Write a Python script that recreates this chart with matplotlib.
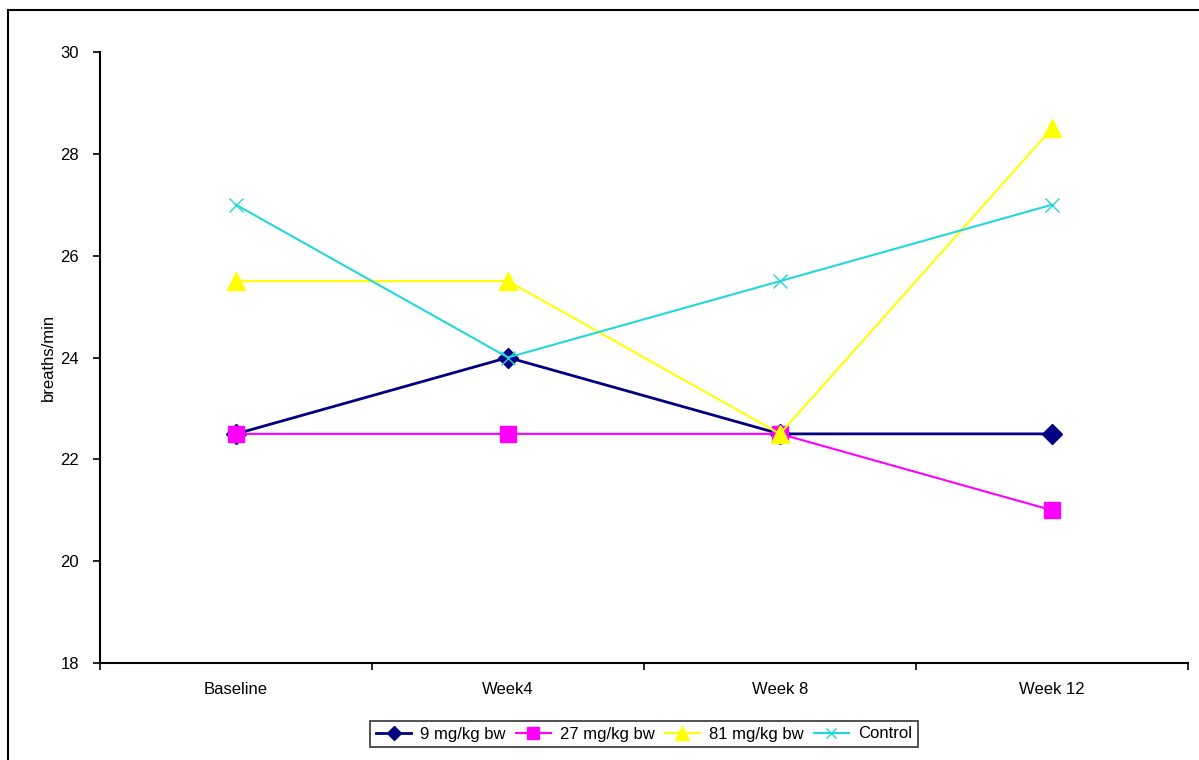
import matplotlib
matplotlib.use("Agg")
import matplotlib.pyplot as plt
import numpy as np
from matplotlib.lines import Line2D

plt.rcParams['font.family'] = ['Liberation Sans', 'DejaVu Sans']

categories = ["Baseline", "Week4", "Week 8", "Week 12"]
dose_9 = [22.5, 24, 22.5, 22.5]
dose_27 = [22.5, 22.5, 22.5, 21]
dose_81 = [25.5, 25.5, 22.5, 28.5]
control = [27, 24, 25.5, 27]
series_names = ["9 mg/kg bw", "27 mg/kg bw", "81 mg/kg bw", "Control"]
y_ticks = [18, 20, 22, 24, 26, 28, 30]

FS = 12
W, H = 1199, 760
fig = plt.figure(figsize=(W / 100, H / 100), dpi=100)
ax = fig.add_axes([100 / W, (H - 663) / H, 1088 / W, 611 / H])

x = np.arange(len(categories))
ax.plot(x, dose_9, color="#000080", lw=2.0, marker="D", ms=10, mec="#000080", mfc="#000080", label=series_names[0], zorder=3)
ax.plot(x, dose_27, color="#FF00FF", lw=1.5, marker="s", ms=11.5, mec="#FF00FF", mfc="#FF00FF", label=series_names[1], zorder=4)
ax.plot(x, dose_81, color="#FFFF00", lw=1.5, marker="^", ms=13.5, mec="#FFFF00", mfc="#FFFF00", label=series_names[2], zorder=5)
ax.plot(x, control, color="#22D8D8", lw=1.5, marker="x", ms=10, mew=1.0, mec="#22D8D8", label=series_names[3], zorder=6)

ax.set_xlim(-0.5, len(categories) - 0.5)
ax.set_ylim(18, 30)
ax.set_yticks(y_ticks)
ax.set_yticklabels([str(v) for v in y_ticks], fontsize=FS)
ax.set_xticks(x)
ax.set_xticklabels(categories, fontsize=FS)
ax.tick_params(axis='x', which='major', length=0, pad=14)
ax.set_xticks(np.arange(-0.5, len(categories), 1.0), minor=True)
ax.tick_params(axis='x', which='minor', length=5, width=1.2, direction='out')
ax.tick_params(axis='y', length=5, width=1.2, direction='out', pad=10)
ax.set_ylabel("breaths/min", fontsize=FS, labelpad=3)

for s in ["top", "right"]:
    ax.spines[s].set_visible(False)
for s in ["left", "bottom"]:
    ax.spines[s].set_linewidth(1.5)

leg = fig.legend(loc='center', bbox_to_anchor=(644 / W, 1 - 734 / H), ncol=4, fontsize=FS,
                 frameon=True, fancybox=False, edgecolor='black', handlelength=2.1,
                 handletextpad=0.55, columnspacing=0.6, borderpad=0.35, markerscale=0.75)
leg.get_frame().set_linewidth(1.2)

# outer chart border (top and left visible)
fig.add_artist(Line2D([8 / W, 8 / W], [0, 1 - 10 / H], transform=fig.transFigure, color='black', lw=1.5))
fig.add_artist(Line2D([8 / W, 1], [1 - 10 / H, 1 - 10 / H], transform=fig.transFigure, color='black', lw=1.5))

fig.savefig("out.png", dpi=100)
